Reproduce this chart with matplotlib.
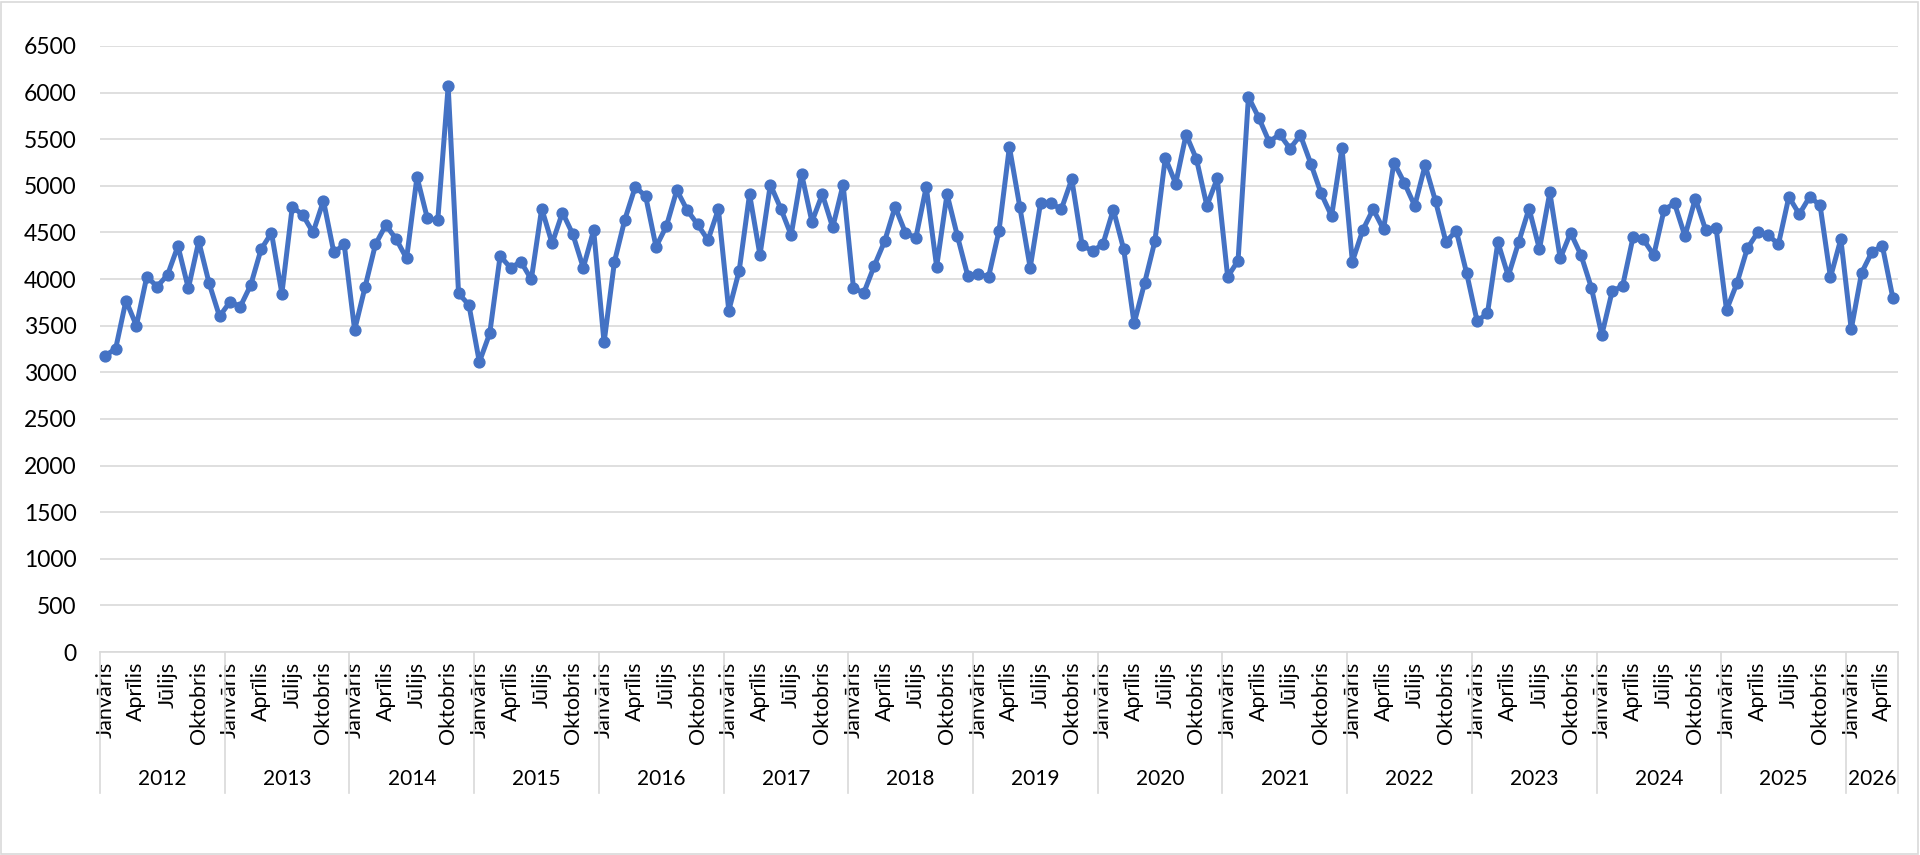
import matplotlib
matplotlib.use("Agg")
import matplotlib.pyplot as plt
from matplotlib.transforms import blended_transform_factory
from matplotlib.patches import Rectangle

plt.rcParams['font.family'] = ['Lato', 'DejaVu Sans']

years = ["2012", "2013", "2014", "2015", "2016", "2017", "2018", "2019",
         "2020", "2021", "2022", "2023", "2024", "2025", "2026"]
month_labels = {0: "Janvāris", 3: "Aprīlis", 6: "Jūlijs", 9: "Oktobris"}

values = [
    # 2012
    3180, 3250, 3770, 3500, 4025, 3920, 4045, 4355, 3900, 4405, 3955, 3600,
    # 2013
    3755, 3705, 3935, 4320, 4495, 3845, 4775, 4690, 4500, 4840, 4286, 4371,
    # 2014
    3454, 3911, 4371, 4579, 4429, 4221, 5096, 4650, 4632, 6068, 3847, 3722,
    # 2015
    3110, 3418, 4248, 4121, 4186, 3996, 4757, 4382, 4714, 4479, 4121, 4525,
    # 2016
    3320, 4186, 4639, 4989, 4889, 4346, 4568, 4954, 4739, 4586, 4418, 4750,
    # 2017
    3661, 4089, 4911, 4257, 5014, 4757, 4471, 5132, 4614, 4911, 4554, 5014,
    # 2018
    3900, 3854, 4143, 4407, 4775, 4496, 4443, 4989, 4132, 4911, 4461, 4032,
    # 2019
    4054, 4025, 4518, 5418, 4775, 4121, 4818, 4811, 4750, 5071, 4364, 4300,
    # 2020
    4375, 4746, 4318, 3525, 3954, 4407, 5300, 5025, 5550, 5286, 4786, 5079,
    # 2021
    4025, 4196, 5954, 5729, 5471, 5554, 5400, 5543, 5239, 4918, 4675, 5407,
    # 2022
    4186, 4525, 4750, 4532, 5250, 5032, 4786, 5221, 4836, 4400, 4518, 4061,
    # 2023
    3550, 3632, 4396, 4032, 4393, 4757, 4321, 4929, 4221, 4496, 4257, 3907,
    # 2024
    3400, 3871, 3925, 4446, 4425, 4257, 4746, 4811, 4461, 4864, 4525, 4543,
    # 2025
    3668, 3954, 4329, 4500, 4471, 4375, 4882, 4696, 4882, 4793, 4018, 4429,
    # 2026
    3461, 4068, 4293, 4354, 3800,
]

yticks = list(range(0, 6501, 500))

W, H = 1920, 855
fig = plt.figure(figsize=(W / 100, H / 100), dpi=100)
fig.patch.set_facecolor("white")
fig.patches.append(Rectangle((1 / W, 1 / H), 1 - 3 / W, 1 - 3 / H, transform=fig.transFigure,
                             fill=False, edgecolor="#D9D9D9", linewidth=1.2))

left, right = 100 / W, 1898 / W
top_px, bot_px = 46, 652
ax = fig.add_axes([left, 1 - bot_px / H, right - left, (bot_px - top_px) / H])

n = len(values)
x = list(range(n))
ax.plot(x, values, color="#4472C4", linewidth=3.6, marker="o", markersize=7.8,
        markerfacecolor="#4472C4", markeredgecolor="#4472C4", zorder=3, clip_on=False,
        solid_joinstyle="round")

ax.set_xlim(-0.5, n - 0.5)
ax.set_ylim(0, 6500)
ax.set_yticks(yticks)
ax.set_yticklabels([str(v) for v in yticks], fontsize=16.5)
ax.tick_params(axis="y", length=0, pad=17)
ax.grid(axis="y", color="#D9D9D9", linewidth=1.2)
ax.set_axisbelow(True)
for s in ["left", "right", "top"]:
    ax.spines[s].set_visible(False)
ax.spines["bottom"].set_color("#D9D9D9")
ax.spines["bottom"].set_linewidth(1.2)

xt = [i for i in range(n) if (i % 12) in month_labels]
ax.set_xticks(xt)
ax.set_xticklabels([month_labels[i % 12] for i in xt], rotation=90, fontsize=15.5, va="top", ha="center")
ax.tick_params(axis="x", length=0, pad=7)

trans = blended_transform_factory(ax.transData, ax.transAxes)
axis_h = bot_px - top_px
sep_bottom = -(793 - bot_px) / axis_h
year_y = -(779 - bot_px) / axis_h
bounds = [12 * k - 0.5 for k in range(len(years))] + [n - 0.5]
for b in bounds:
    ax.plot([b, b], [0, sep_bottom], transform=trans, color="#D9D9D9", linewidth=1.2, clip_on=False)
for k, yr in enumerate(years):
    start = 12 * k - 0.5
    end = min(12 * (k + 1), n) - 0.5
    ax.text((start + end) / 2, year_y, yr, transform=trans, ha="center", va="center", fontsize=15)

fig.savefig("out.png", dpi=100, facecolor="white")
